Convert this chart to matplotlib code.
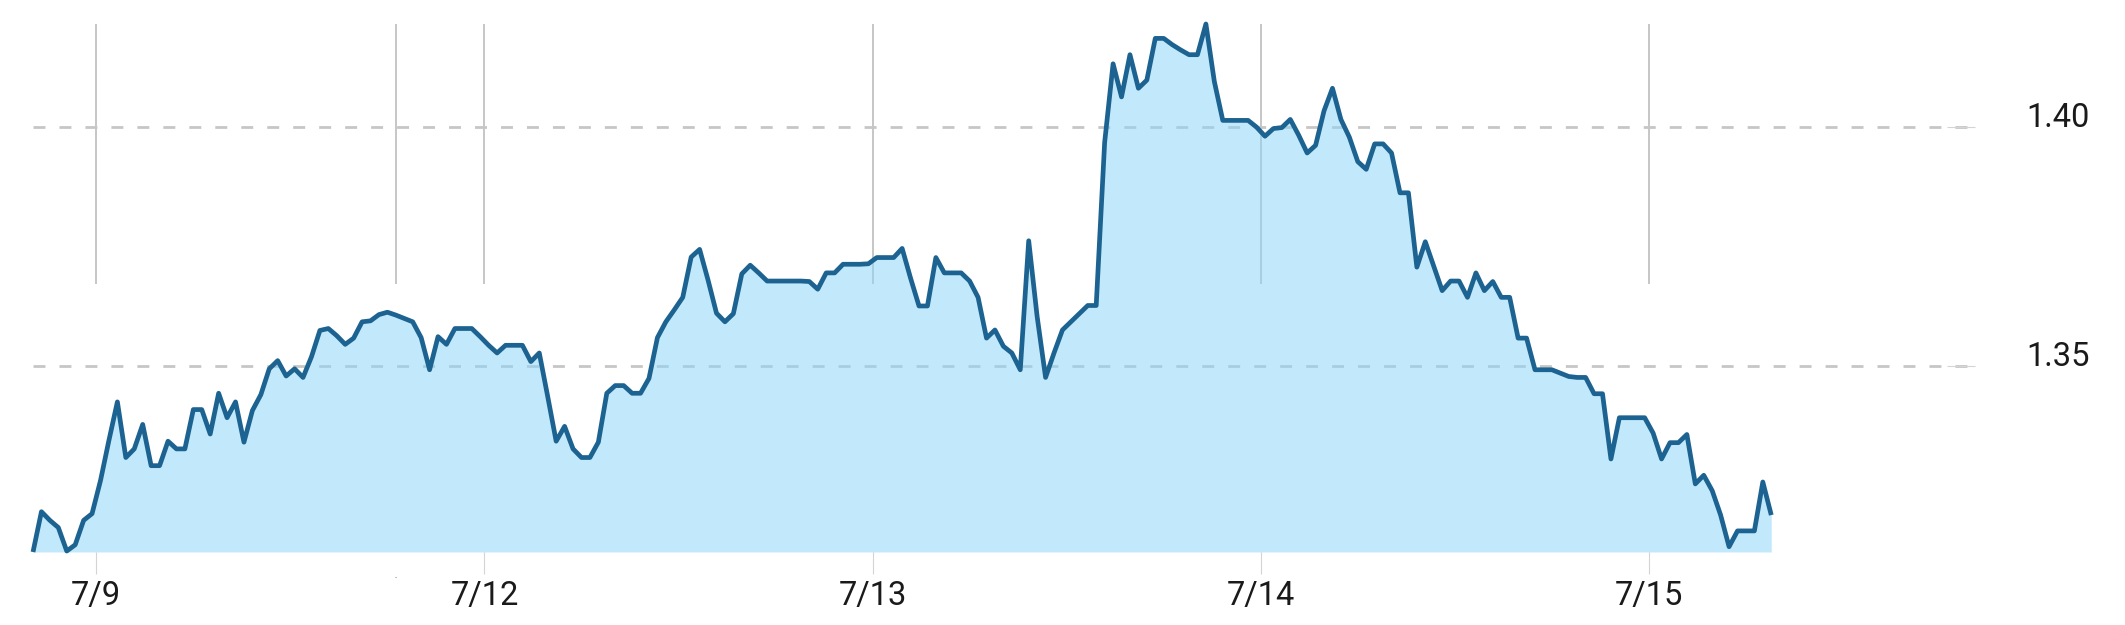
import numpy as np
import matplotlib
matplotlib.use("Agg")
import matplotlib.pyplot as plt

# half-hourly closes (46 samples per trading day)
values = [
    1.3113, 1.3197, 1.3179, 1.3164, 1.3115, 1.3128, 1.3179, 1.3193, 1.3262, 1.3346,
    1.3426, 1.3310, 1.3328, 1.3379, 1.3293, 1.3293, 1.3344, 1.3328, 1.3328, 1.3410,
    1.3410, 1.3359, 1.3444, 1.3393, 1.3426, 1.3342, 1.3408, 1.3441, 1.3495, 1.3512,
    1.3480, 1.3495, 1.3477, 1.3520, 1.3575, 1.3579, 1.3564, 1.3546, 1.3559, 1.3593,
    1.3595, 1.3608, 1.3613, 1.3607, 1.3600, 1.3593, 1.3560, 1.3493, 1.3562, 1.3546,
    1.3579, 1.3579, 1.3579, 1.3562, 1.3544, 1.3528, 1.3544, 1.3544, 1.3544, 1.3510,
    1.3528, 1.3437, 1.3344, 1.3375, 1.3328, 1.3310, 1.3310, 1.3342, 1.3444, 1.3460,
    1.3460, 1.3444, 1.3444, 1.3475, 1.3560, 1.3593, 1.3618, 1.3644, 1.3728, 1.3744,
    1.3680, 1.3611, 1.3593, 1.3610, 1.3693, 1.3711, 1.3695, 1.3678, 1.3678, 1.3678,
    1.3678, 1.3678, 1.3677, 1.3661, 1.3695, 1.3695, 1.3713, 1.3713, 1.3713, 1.3714,
    1.3727, 1.3727, 1.3727, 1.3746, 1.3684, 1.3626, 1.3626, 1.3727, 1.3695, 1.3695,
    1.3695, 1.3678, 1.3644, 1.3559, 1.3576, 1.3542, 1.3528, 1.3493, 1.3762, 1.3604,
    1.3477, 1.3528, 1.3576, 1.3593, 1.3610, 1.3627, 1.3627, 1.3967, 1.4131, 1.4062,
    1.4150, 1.4080, 1.4097, 1.4184, 1.4184, 1.4171, 1.4160, 1.4150, 1.4150, 1.4214,
    1.4094, 1.4013, 1.4013, 1.4013, 1.4013, 1.3999, 1.3980, 1.3996, 1.3998, 1.4015,
    1.3982, 1.3945, 1.3961, 1.4033, 1.4080, 1.4015, 1.3978, 1.3927, 1.3911, 1.3964,
    1.3964, 1.3945, 1.3862, 1.3862, 1.3707, 1.3760, 1.3709, 1.3658, 1.3678, 1.3678,
    1.3644, 1.3695, 1.3658, 1.3677, 1.3644, 1.3644, 1.3559, 1.3559, 1.3493, 1.3493,
    1.3493, 1.3486, 1.3479, 1.3477, 1.3477, 1.3443, 1.3443, 1.3307, 1.3393, 1.3393,
    1.3393, 1.3393, 1.3361, 1.3307, 1.3341, 1.3341, 1.3358, 1.3255, 1.3273, 1.3241,
    1.3190, 1.3124, 1.3157, 1.3157, 1.3157, 1.3259, 1.3190,
]

day_pos = [7.5, 53.5, 99.5, 145.5, 191.5]
day_labels = ["7/9", "7/12", "7/13", "7/14", "7/15"]
break_pos = [43]          # weekend break, drawn without a label
x_end = 230.2             # empty space kept on the right
y_ticks = [1.35, 1.40]
y_labels = ["1.35", "1.40"]

line_color = "#1d6391"
fill_color = "#8dd7f9"
grid_color = "#c6c6c6"

plt.rcParams["font.family"] = ["Roboto", "DejaVu Sans"]
plt.rcParams["lines.scale_dashes"] = False

fig = plt.figure(figsize=(21.25, 6.25), dpi=100)
ax = fig.add_axes([0.01553, 0.1168, 0.9141, 0.8448])

x = np.arange(len(values))
y_lo = min(values)
y_hi = max(values)

ax.set_xlim(0, x_end)
ax.set_ylim(y_lo, y_hi)

# vertical day lines only cover the upper half of the plot
for p in day_pos + break_pos:
    ax.axvline(p, ymin=0.51, ymax=1.0, color=grid_color, lw=1.4, zorder=0.5)

ax.set_axisbelow(True)
ax.yaxis.grid(True, color=grid_color, lw=2.0, linestyle=(0, (8.6, 10.1)))
ax.xaxis.grid(False)

ax.fill_between(x, values, y_lo, color=fill_color, alpha=0.53, lw=0, zorder=1)
ax.plot(x, values, color=line_color, lw=3.4, solid_joinstyle="round",
        solid_capstyle="butt", zorder=3, clip_on=False)

for s in ax.spines.values():
    s.set_visible(False)

ax.set_xticks(day_pos)
ax.set_xticklabels(day_labels, fontsize=23.5, color="#1a1a1a")
ax.set_xticks(break_pos, minor=True)
ax.set_xticklabels(["."], minor=True, fontsize=6, color="#1a1a1a")
ax.tick_params(axis="x", which="major", direction="out", length=16, width=0.8,
               color="#d4d4d4", pad=4)
ax.tick_params(axis="x", which="minor", length=0, pad=15)

ax.yaxis.tick_right()
ax.set_yticks(y_ticks)
ax.set_yticklabels(y_labels, fontsize=23.5, color="#1a1a1a")
ax.tick_params(axis="y", direction="in", length=20, width=0.8,
               color="#d4d4d4", pad=36.5)
for lab in ax.get_yticklabels():
    lab.set_verticalalignment("baseline")

fig.savefig("out.png", dpi=100, facecolor="white")
